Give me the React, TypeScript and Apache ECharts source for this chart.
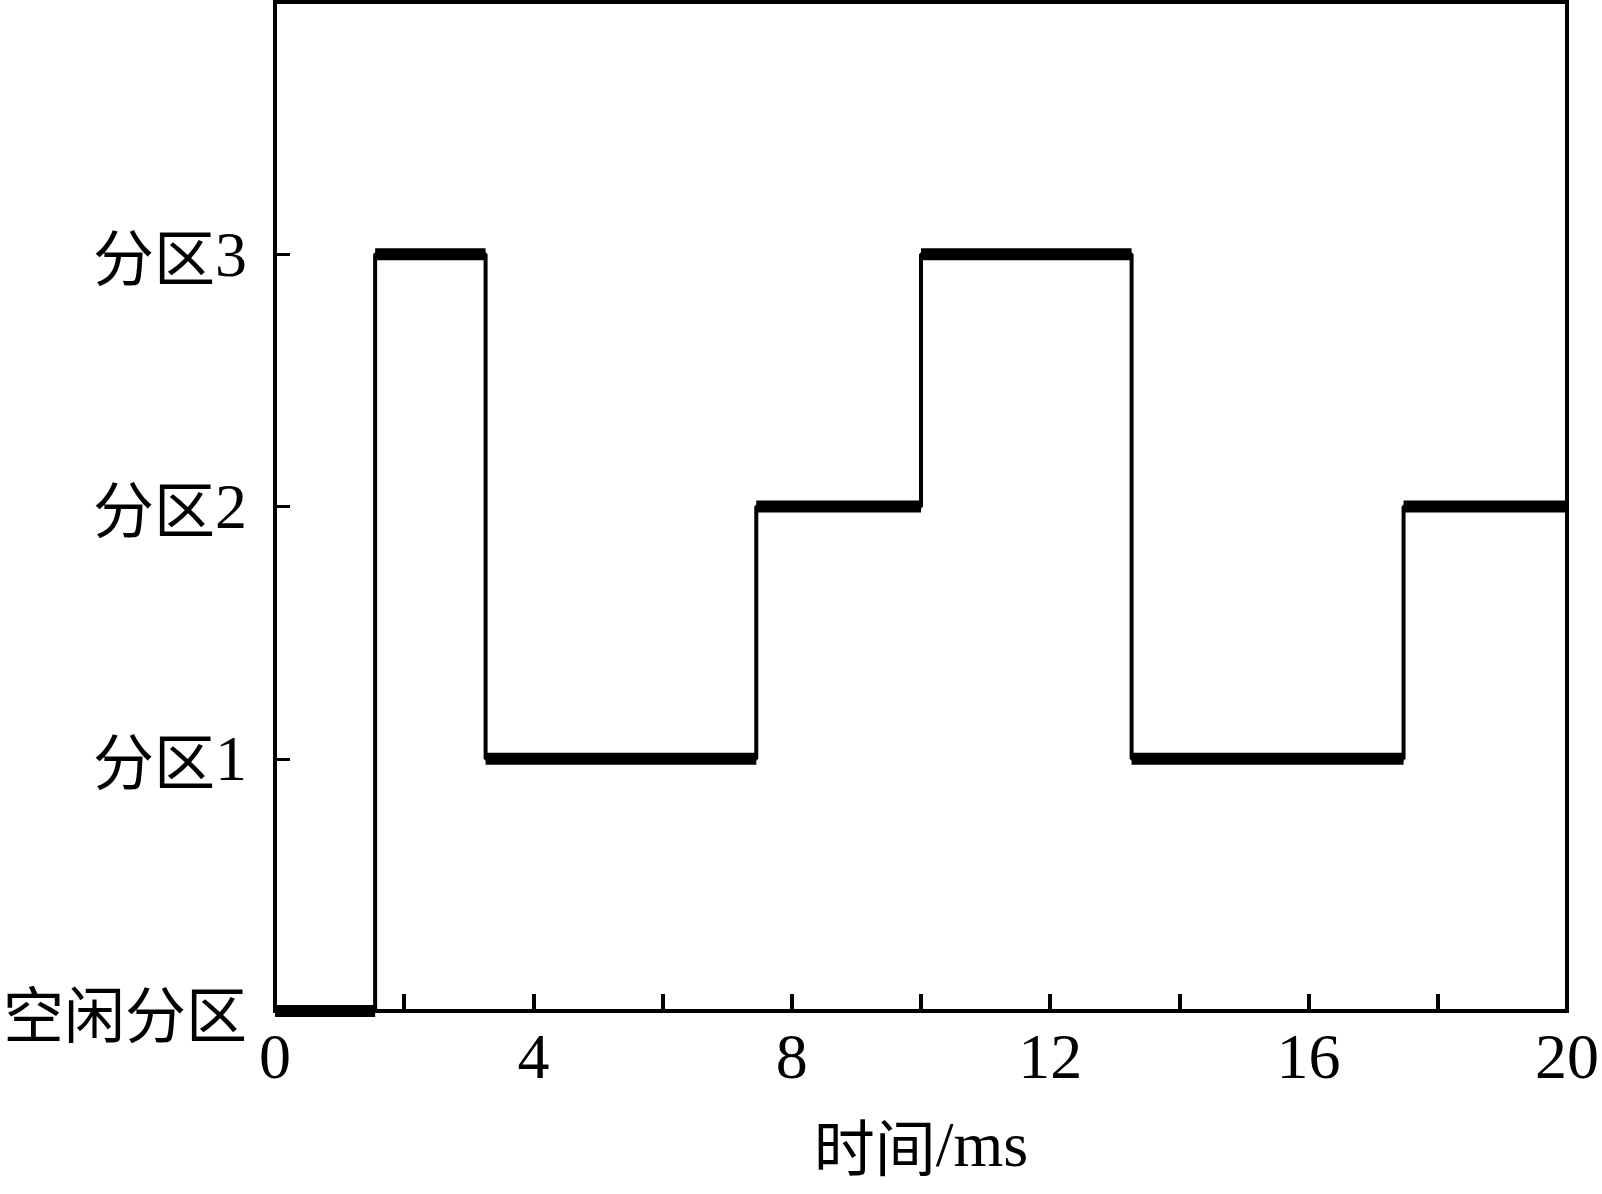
import React, { useEffect, useRef } from "react";
import * as echarts from "echarts";

// Transition times (ms) and the partition level held between consecutive times
const switchTimes = [0, 1.55, 3.26, 7.45, 10.0, 13.26, 17.47, 20];
const levels = [0, 3, 1, 2, 3, 1, 2];
const yTickCJK = ["空闲分区", "分区", "分区", "分区", ""];
const yTickNum = ["", "1", "2", "3", ""];
const xLabelTicks = [0, 4, 8, 12, 16, 20];
const xNameCJK = "时间";
const xNameLatin = "/ms";

const LATIN = "'Liberation Serif', 'Times New Roman', serif";
const CJK = "'Noto Sans CJK SC', sans-serif";

const rich = {
  c: { fontFamily: CJK, fontSize: 61, lineHeight: 64, color: "#000" },
  d: { fontFamily: LATIN, fontSize: 64, lineHeight: 64, color: "#000" },
};

export default function App() {
  const ref = useRef<HTMLDivElement>(null);

  useEffect(() => {
    document.body.style.margin = "0";
    const chart = echarts.init(ref.current!, null, { renderer: "svg" });

    // thin step line through all transitions
    const stepData: number[][] = [];
    levels.forEach((lv, i) => {
      stepData.push([switchTimes[i], lv]);
      stepData.push([switchTimes[i + 1], lv]);
    });

    // thick horizontal segments
    const thickSeries = levels.map((lv, i) => ({
      type: "line" as const,
      data: [
        [switchTimes[i], lv],
        [switchTimes[i + 1], lv],
      ],
      symbol: "none",
      clip: false,
      lineStyle: { color: "#000", width: 12, cap: "butt" as const },
      z: 3,
    }));

    chart.setOption({
      animation: false,
      backgroundColor: "#fff",
      grid: {
        left: 275,
        right: 33,
        top: 2,
        bottom: 183,
        show: true,
        borderColor: "#000",
        borderWidth: 4,
      },
      xAxis: {
        type: "value",
        min: 0,
        max: 20,
        interval: 2,
        name: `{c|${xNameCJK}}{d|${xNameLatin}}`,
        nameLocation: "middle",
        nameGap: 101,
        nameTextStyle: { rich },
        axisLine: { show: true, lineStyle: { color: "#000", width: 4 } },
        axisTick: { show: true, inside: true, length: 17, lineStyle: { color: "#000", width: 4 } },
        axisLabel: {
          fontFamily: LATIN,
          fontSize: 64,
          color: "#000",
          margin: 13,
          formatter: (v: number) => (xLabelTicks.includes(v) ? String(v) : ""),
        },
        splitLine: { show: false },
      },
      yAxis: {
        type: "value",
        min: 0,
        max: 4,
        interval: 1,
        axisLine: { show: true, lineStyle: { color: "#000", width: 4 } },
        axisTick: { show: true, inside: true, length: 15, lineStyle: { color: "#000", width: 3 } },
        axisLabel: {
          margin: 28,
          rich,
          formatter: (v: number) => {
            const c = yTickCJK[v] ?? "";
            const d = yTickNum[v] ?? "";
            if (!c && !d) return "";
            return (c ? `{c|${c}}` : "") + (d ? `{d|${d}}` : "");
          },
        },
        splitLine: { show: false },
      },
      series: [
        {
          type: "line",
          data: stepData,
          symbol: "none",
          clip: false,
          lineStyle: { color: "#000", width: 4 },
          z: 2,
        },
        ...thickSeries,
      ],
    });

    return () => chart.dispose();
  }, []);

  return <div ref={ref} style={{ width: 1602, height: 1194 }} />;
}
